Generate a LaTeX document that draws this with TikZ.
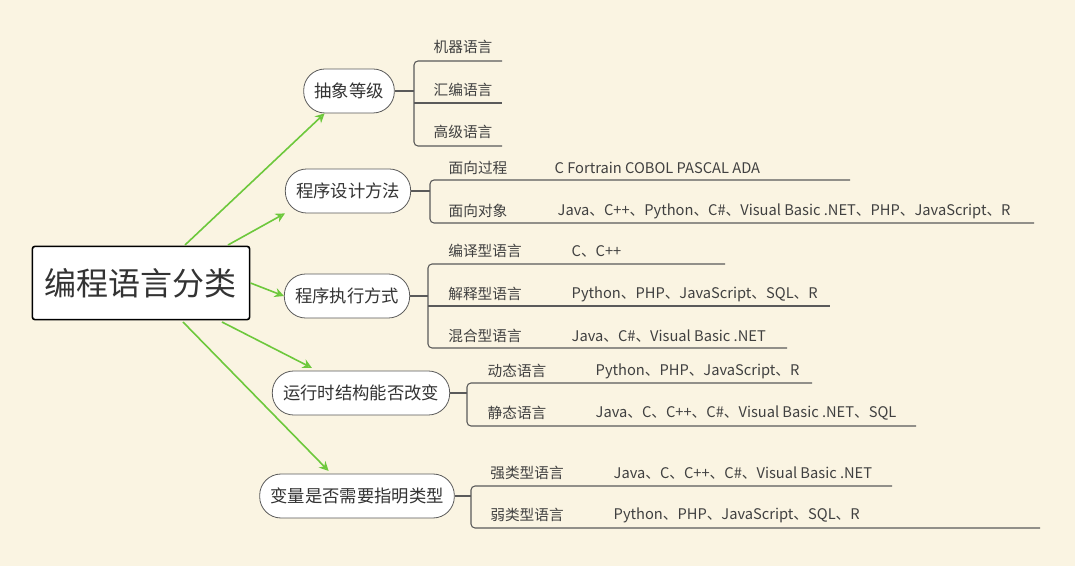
\documentclass[tikz,border=0pt]{standalone}
\usepackage{fontspec}
\setmainfont{Noto Sans CJK SC}
\usetikzlibrary{positioning, arrows.meta}
\definecolor{paper}{HTML}{FAF4E2}
\definecolor{leafgreen}{HTML}{6DC83C}
\definecolor{inkgray}{HTML}{5A5A5A}
\begin{document}
\begin{tikzpicture}[
    x=0.75pt, y=-0.75pt,
    % STYLES
    root/.style={draw=black, fill=white, line width=1.2pt, rounded corners=2pt, minimum width=163pt, minimum height=55pt, font=\fontsize{24}{28}\selectfont, text=black!80},
    topic/.style={draw=inkgray, fill=white, line width=0.6pt, rounded corners=16pt, minimum height=33pt, inner xsep=8pt, font=\fontsize{13}{15}\selectfont, text=black!80},
    leaf_label/.style={font=\fontsize{11}{13}\selectfont, text=black!75},
    arrow/.style={-{Stealth[length=7pt, width=7pt, open]}, draw=leafgreen, line width=1.2pt},
    branch/.style={draw=inkgray, line width=0.8pt, rounded corners=3pt}
]
    \fill[paper] (0,0) rectangle (1075,566);

    \node[root] (root) at (141,283) {编程语言分类};

    \node[topic] (t1) at (349,91)  {抽象等级};
    \node[topic] (t2) at (348,191) {程序设计方法};
    \node[topic] (t3) at (347,296) {程序执行方式};
    \node[topic] (t4) at (361,393) {运行时结构能否改变};
    \node[topic] (t5) at (357,496) {变量是否需要指明类型};

    % arrows from the root
    \coordinate (r1) at (185,245);
    \coordinate (r2) at (228,245);
    \coordinate (r4) at (222,322);
    \coordinate (r5) at (183,322);
    \draw[arrow] (r1) -- ([xshift=16pt]t1.south west);
    \draw[arrow] (r2) -- (t2.south west);
    \draw[arrow] (root.east) -- (t3.west);
    \draw[arrow] (r4) -- ([xshift=30pt, yshift=2pt]t4.north west);
    \draw[arrow] (r5) -- ([xshift=52pt, yshift=2pt]t5.north west);

    % Abstraction level
    \coordinate (b1) at (414,91);
    \draw[branch] (t1.east) -- (b1);
    \draw[branch] (502,61) -- (414,61) -- (414,146) -- (502,146);
    \draw[branch] (414,103) -- (502,103);
    \foreach \y/\lbl in {47/机器语言, 90/汇编语言, 132/高级语言}
        \node[leaf_label] at (463,\y) {\lbl};

    % Design methods
    \coordinate (b2) at (430,191);
    \draw[branch] (t2.east) -- (b2);
    \draw[branch] (850,180) -- (430,180) -- (430,223) -- (1034,223);
    \node[leaf_label] (m1) at (478,168) {面向过程};
    \node[leaf_label, anchor=west] (d1) at (550,168) {C Fortrain COBOL PASCAL ADA};
    \node[leaf_label] (m2) at (478,211) {面向对象};
    \node[leaf_label, anchor=west] (d2) at (553,211) {Java、C++、Python、C\#、Visual Basic .NET、PHP、JavaScript、R};

    % Execution
    \coordinate (b3) at (428,296);
    \draw[branch] (t3.east) -- (b3);
    \draw[branch] (725,264) -- (428,264) -- (428,348) -- (787,348);
    \draw[branch] (428,306) -- (830,306);
    \foreach \y/\lbl/\txt in {251/编译型语言/C、C++, 294/解释型语言/Python、PHP、JavaScript、SQL、R, 336/混合型语言/Java、C\#、Visual Basic .NET} {
        \node[leaf_label] at (485,\y) {\lbl};
        \node[leaf_label, anchor=west] at (567,\y) {\txt};
    }

    % Runtime structure
    \coordinate (b4) at (467,393);
    \draw[branch] (t4.east) -- (b4);
    \draw[branch] (812,383) -- (467,383) -- (467,426) -- (916,426);
    \foreach \y/\lbl/\txt in {371/动态语言/Python、PHP、JavaScript、R, 413/静态语言/Java、C、C++、C\#、Visual Basic .NET、SQL} {
        \node[leaf_label] at (517,\y) {\lbl};
        \node[leaf_label, anchor=west] at (591,\y) {\txt};
    }

    % Typing
    \coordinate (b5) at (471,496);
    \draw[branch] (t5.east) -- (b5);
    \draw[branch] (892,486) -- (471,486) -- (471,528) -- (1040,528);
    \foreach \y/\lbl/\txt in {473/强类型语言/Java、C、C++、C\#、Visual Basic .NET, 515/弱类型语言/Python、PHP、JavaScript、SQL、R} {
        \node[leaf_label] at (527,\y) {\lbl};
        \node[leaf_label, anchor=west] at (609,\y) {\txt};
    }
\end{tikzpicture}
\end{document}
